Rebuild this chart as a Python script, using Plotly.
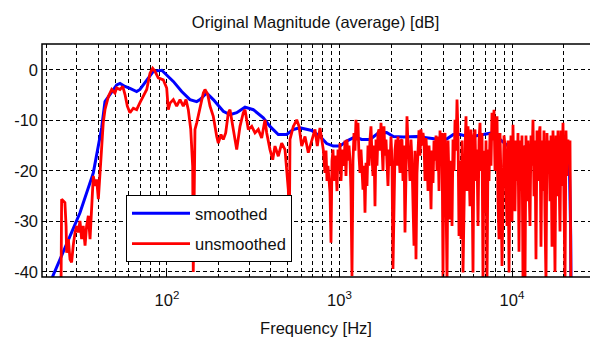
import plotly.graph_objects as go

# ---------------- data ----------------
smooth_freq = [21.0, 21.8, 27.4, 31.3, 37.4, 41.8, 43.7, 46.7, 51.1, 53.4, 57.1, 61.0, 66.7, 69.7,
               76.3, 83.3, 93.2, 99.6, 108.8, 121.7, 135.9, 148.7, 155.4, 169.9, 185.5, 212, 231.9,
               253.6, 283.3, 316.5, 361.6, 395.5, 441.8, 494.2, 539.8, 590, 690, 771, 843, 921,
               1007, 1101, 1230, 1345, 1502, 1679, 1877, 2051, 2344, 2803, 3346, 3824, 4183, 4568,
               4994, 5708, 6817, 7627, 8520, 9520, 11130, 12170, 13910, 16610, 18980, 21400, 21900, 22000]
smooth_db = [-44, -40.8, -32.9, -28.3, -20.4, -11.5, -6.3, -5.0, -3.0, -2.7, -3.3, -3.7, -4.3, -3.9,
             -2.0, -0.3, -0.1, -1.0, -2.3, -4.3, -5.9, -6.3, -5.9, -4.6, -5.9, -8.2, -8.9,
             -8.5, -7.4, -7.9, -9.5, -11.2, -12.8, -12.8, -11.8, -11.5, -12.0, -13.2, -14.6, -15.1,
             -15.1, -14.1, -13.3, -13.8, -13.8, -12.5, -12.4, -13.2, -13.3, -13.2, -13.5, -13.8, -13.7, -12.8,
             -12.8, -13.3, -12.8, -12.5, -13.8, -15.1, -15.8, -15.1, -15.0, -14.5, -14.3, -14.5, -33, -45]

raw_freq = [24.3, 24.5, 25.6, 26.0, 26.2, 26.8, 27.4, 28.0, 28.6, 29.3, 30.0, 30.6, 31.3, 32.0, 32.7,
            33.5, 34.2, 35.0, 35.8, 36.6, 37.4, 38.3, 39.1, 40.0, 40.9, 41.8, 42.7, 43.7, 45.7, 47.8,
            49.9, 51.1, 53.4, 55.4, 57.1, 58.9, 61.0, 63.8, 66.7, 69.7, 72.9, 76.3, 79.7, 82.6, 85.2,
            89.0, 95.2, 99.6, 101.7, 104.1, 108.8, 113.8, 119.0, 124.3, 128.9, 132.9, 137.3, 140.9,
            142.0, 143.5, 145.3, 148.7, 155.4, 162.4, 166.1, 172.2, 177.6, 185.5, 194.2, 198.4, 205.6,
            212.0, 218.9, 226.7, 231.9, 242.3, 253.6, 265.0, 276.9, 283.3, 296.1, 309.8, 323.7, 338.3,
            353.9, 370.0, 378.5, 395.5, 410.1, 422.7, 441.8, 462.3, 483.1, 505.0, 511.7, 516.5, 539.8,
            564.9, 582.5, 603.9, 631.0, 659.4, 690.0, 721.1, 743.5, 770.8, 805.5,
            824.0, 835.1, 846.3, 857.7, 869.2, 880.9, 892.7, 904.7, 916.9, 929.2, 941.7, 954.3, 967.2,
            980.2, 993.3, 1006.7, 1020.2, 1033.9, 1047.8, 1061.9, 1076.2, 1090.6, 1105.3, 1120.1, 1135.2,
            1150.4, 1165.9, 1181.5, 1197.4, 1213.5, 1229.8, 1246.3, 1263.1, 1280.0, 1297.2, 1314.7, 1332.3,
            1350.2, 1368.4, 1386.8, 1405.4, 1424.3, 1443.4, 1462.8, 1482.5, 1502.4, 1522.6, 1543.0, 1563.8,
            1584.8, 1606.1, 1627.7, 1649.5, 1671.7, 1694.2, 1716.9, 1740.0, 1763.4, 1787.1, 1811.1, 1835.4,
            1860.1, 1885.1, 1910.4, 1936.1, 1962.1, 1988.5, 2015.2, 2042.3, 2069.7, 2097.5, 2125.7, 2154.3,
            2183.2, 2212.6, 2242.3, 2272.4, 2303.0, 2333.9, 2365.3, 2397.1, 2429.3, 2461.9, 2495.0, 2528.5,
            2562.5, 2596.9, 2631.8, 2667.2, 2703.0, 2739.4, 2776.2, 2813.5, 2851.3, 2889.6, 2928.4, 2967.8,
            3007.7, 3048.1,
            3090, 3132, 3174, 3216, 3260, 3303, 3348, 3393, 3438, 3485, 3531, 3579, 3627, 3676, 3725,
            3775, 3826, 3877, 3929, 3982, 4035, 4090, 4145, 4200, 4257, 4314, 4372, 4431, 4490, 4551,
            4612, 4674, 4737, 4800, 4865, 4930, 4996, 5064, 5132, 5201, 5271, 5341, 5413, 5486, 5560,
            5634, 5710, 5787, 5864, 5943, 6023, 6104, 6186, 6269, 6353, 6439, 6525, 6613, 6702, 6792,
            6883, 6976, 7069, 7164, 7261, 7358, 7457, 7557, 7659, 7762, 7866, 7972, 8079, 8187, 8297,
            8409, 8522, 8636, 8752, 8870, 8989, 9110, 9232, 9356, 9482, 9609, 9738,
            9867, 10000, 10134, 10270, 10408, 10548, 10690, 10833, 10979, 11126, 11276, 11427, 11581,
            11736, 11894, 12054, 12216, 12380, 12546, 12715, 12886, 13059, 13234, 13412, 13592, 13775,
            13960, 14148, 14338, 14530, 14725, 14923, 15124, 15327, 15533, 15742, 15953, 16168, 16385,
            16605, 16828, 17054, 17284, 17516, 17751, 17990, 18232, 18477, 18725, 18977, 19232, 19490,
            19752, 20018, 20287, 20559, 20836, 21116, 21400, 21687, 21978]
raw_db = [-44, -25.6, -26.3, -30.9, -36.2, -33.5, -37.5, -38.1, -34.8, -32.2, -30.9, -32.2, -29.9, -33.5, -30.9,
          -34.8, -30.9, -28.9, -33.5, -25.6, -21.0, -23.0, -21.7, -25.6, -20.4, -13.8, -10.5, -7.9, -5.3, -3.9,
          -4.6, -3.6, -3.9, -3.3, -4.9, -7.2, -8.5, -7.6, -7.9, -6.5, -5.3, -3.9, -0.7, 0.3, -0.3,
          -1.6, -2.0, -3.6, -7.9, -6.6, -5.9, -7.2, -5.9, -7.2, -5.9, -7.9, -11.8, -19.1,
          -40, -19, -11.8, -10.5, -7.2, -4.6, -3.9, -4.9, -7.2, -9.2, -13.2, -14.5, -12.8,
          -13.8, -12.5, -8.5, -7.9, -11.5, -15.8, -11.2, -8.5, -7.9, -11.8, -11.2, -12.5, -11.8,
          -13.5, -9.9, -12.5, -15.8, -17.8, -15.1, -17.1, -14.5, -15.8, -23.7, -33, -13.8, -11.2,
          -9.9, -11.2, -15.1, -13.2, -16.4, -13.8, -11.8, -15.1, -11.5, -15.8,
          -20.4, -16, -22, -19, -23, -24.3, -34.2, -18, -15.8, -22, -17, -19.1, -24,
          -15.8, -20, -14.5, -22, -17, -15.8, -19, -14, -21, -13.8, -18, -15,
          -17.8, -24, -40.8, -18, -12.5, -16, -9.9, -14, -10.5, -17, -20.4, -15.8,
          -21, -23.7, -19, -28.3, -18.4, -23, -15, -19, -13.8, -11.2, -17, -21,
          -15, -27, -13.8, -19, -12.5, -11.8, -16, -10.5, -15, -20, -11.2, -17,
          -13.8, -19, -23, -15.8, -19, -13.2, -18, -39.4, -21.7, -16, -13.8, -19,
          -13.2, -17, -20.4, -14, -13.8, -22, -15, -32.2, -14, -9.2, -15, -17.1,
          -22, -13.8, -18, -26, -34.8, -16, -37.5, -20.4, -14, -12, -17, -11.8,
          -15, -12.5,
          -14, -22, -13.5, -17, -24, -15, -19, -27.6, -16, -22.4, -14, -18, -13, -20, -13.2,
          -24, -12, -18, -12.5, -41, -14, -12.5, -25, -42, -14, -24.3, -29.6, -18, -30.9, -13.8,
          -20, -9.9, -16, -5.9, -12.5, -32.9, -18, -33.5, -14, -40.1, -22, -15.8, -9.2, -24, -11.2,
          -18, -27, -11.8, -20, -40.1, -13, -11.8, -22, -15.8, -30.9, -14, -10.5, -20, -12.5, -42,
          -16, -28.3, -14, -42, -15.8, -22, -12.5, -19, -8.5, -14, -7.9, -20, -12, -9.2, -26,
          -33.5, -12.5, -22, -38.8, -20.4, -13, -15.1, -24, -30.9, -14, -40.1, -20.4,
          -13, -30, -10.9, -24, -28, -14, -22, -12.5, -36, -14, -24, -13, -41.5,
          -15, -42, -13, -26, -14, -21, -30.9, -13, -19, -9.9, -25, -14, -37.5,
          -12, -22, -13, -11.2, -35, -14, -24, -12, -29, -42, -12.5, -20, -14,
          -26, -13, -35, -12, -22, -40, -13, -25, -12, -20, -32, -12, -23,
          -10.5, -27, -42, -12, -21, -13.8, -18, -14, -45]

x_major = [100, 1000, 10000]
x_major_text = ["10<sup>2</sup>", "10<sup>3</sup>", "10<sup>4</sup>"]
x_minor = [20, 30, 40, 50, 60, 70, 80, 90, 200, 300, 400, 500, 600, 700, 800, 900,
           2000, 3000, 4000, 5000, 6000, 7000, 8000, 9000, 20000]
y_ticks = [-40, -30, -20, -10, 0]
y_ticktext = ["-40", "-30", "-20", "-10", "0"]

# ---------------- figure ----------------
FONT = "Liberation Sans, Arial, sans-serif"
FS = 16.5
fig = go.Figure()
fig.add_trace(go.Scatter(x=smooth_freq, y=smooth_db, mode="lines", name="smoothed",
                         legendgroup="a", line=dict(color="#0000ff", width=3)))
fig.add_trace(go.Scatter(x=raw_freq, y=raw_db, mode="lines", name="unsmoothed",
                         legendgroup="b", line=dict(color="#ff0000", width=2.8)))

grid = dict(showgrid=True, gridcolor="#000000", gridwidth=1, griddash="4px,3px")

fig.update_layout(
    width=590, height=343,
    margin=dict(l=42, r=0, t=44, b=66),
    paper_bgcolor="white", plot_bgcolor="white",
    font=dict(family=FONT, size=FS, color="#111111"),
    title=dict(text="Original Magnitude (average) [dB]", x=0.535, xanchor="center",
               y=1 - 22 / 343, yanchor="middle", yref="container",
               font=dict(family=FONT, size=FS, color="#111111")),
    showlegend=True,
    legend=dict(x=(126 - 42) / 548, y=(277 - 195) / 233, xanchor="left", yanchor="top",
                bgcolor="white", bordercolor="#000000", borderwidth=1,
                itemwidth=58, tracegroupgap=6,
                font=dict(family=FONT, size=FS, color="#111111")),
    xaxis=dict(type="log", range=[1.2754, 4.4522], tickmode="array",
               tickvals=x_major, ticktext=x_major_text, ticks="inside", ticklen=5,
               tickcolor="#000000", showline=False, zeroline=False,
               ticklabelstandoff=11,
               minor=dict(tickmode="array", tickvals=x_minor, ticks="inside", ticklen=3,
                          tickcolor="#000000", **grid),
               title=dict(text="Frequency [Hz]", standoff=14,
                          font=dict(family=FONT, size=FS, color="#111111")),
               **grid),
    yaxis=dict(range=[-41, 5.1], tickmode="array", tickvals=y_ticks, ticktext=y_ticktext,
               ticks="inside", ticklen=5, tickcolor="#000000", showline=False, zeroline=False,
               ticklabelstandoff=3,
               **grid),
)

# axes box (left, top, bottom; right edge lies outside the window)
fig.add_shape(type="rect", xref="paper", yref="paper", x0=0, x1=1.02, y0=0, y1=1,
              line=dict(color="#000000", width=1.5), fillcolor="rgba(0,0,0,0)", layer="above")

fig.write_html("out.html")
